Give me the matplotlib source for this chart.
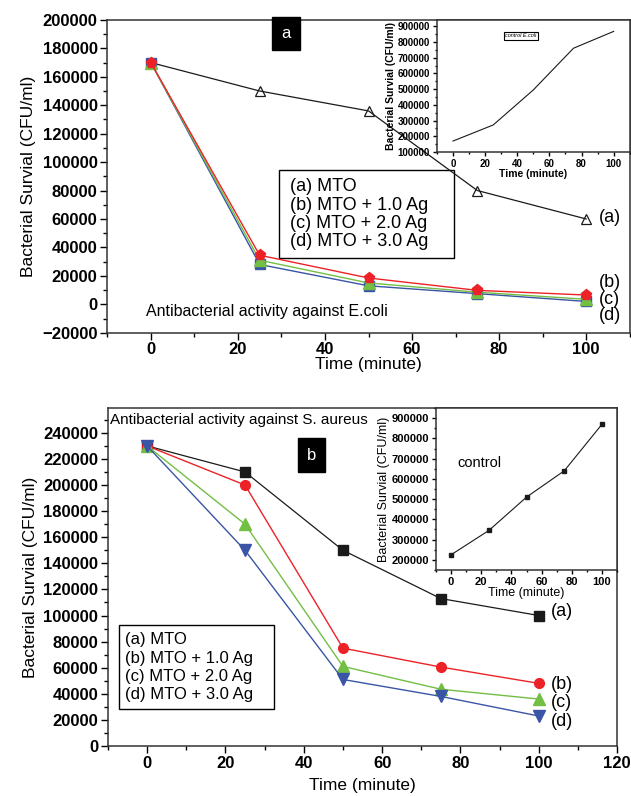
import matplotlib
matplotlib.use('Agg')
import matplotlib.pyplot as plt
from matplotlib.ticker import MultipleLocator
from matplotlib.patches import Rectangle

plt.rcParams['font.family'] = ['Liberation Sans', 'DejaVu Sans']

# data
time = [0, 25, 50, 75, 100]
labels = ['(a) MTO', '(b) MTO + 1.0 Ag', '(c) MTO + 2.0 Ag', '(d) MTO + 3.0 Ag']

ecoli_a = [170000, 150000, 136000, 80000, 60000]
ecoli_b = [170000, 34500, 18500, 9800, 6500]
ecoli_c = [170000, 31000, 15000, 8500, 3500]
ecoli_d = [170000, 28000, 13000, 7500, 2000]
ecoli_ctrl_t = [0, 25, 50, 75, 100]
ecoli_ctrl = [170000, 272000, 495000, 760000, 867000]

aureus_a = [230000, 210000, 150000, 113000, 100000]
aureus_b = [230000, 200000, 75000, 60500, 48000]
aureus_c = [230000, 170000, 61000, 43500, 36000]
aureus_d = [230000, 150000, 51000, 38000, 23000]
aureus_ctrl = [225000, 345000, 510000, 640000, 870000]

RED = '#ec2227'
GREEN = '#72bf44'
BLUE = '#3a55a6'
BLK = '#1a1a1a'

fig = plt.figure(figsize=(6.31, 7.96), dpi=100)


def style(ax, fs, xmaj, xmin, ymaj, ymin, ln=5):
    ax.xaxis.set_major_locator(MultipleLocator(xmaj))
    ax.xaxis.set_minor_locator(MultipleLocator(xmin))
    ax.yaxis.set_major_locator(MultipleLocator(ymaj))
    ax.yaxis.set_minor_locator(MultipleLocator(ymin))
    ax.tick_params(which='major', direction='out', length=ln, width=1, labelsize=fs, pad=2)
    ax.tick_params(which='minor', direction='out', length=ln * 0.6, width=1)
    for lab in ax.get_xticklabels() + ax.get_yticklabels():
        lab.set_fontweight('bold')
    for s in ax.spines.values():
        s.set_linewidth(1.1)
        s.set_color('#333333')


# ---------------- panel a ----------------
ax1 = fig.add_axes([0.170, 0.582, 0.828, 0.393])
ax1.plot(time, ecoli_a, color=BLK, lw=0.9, marker='^', ms=7, mfc='none', mec=BLK, mew=0.9)
ax1.plot(time, ecoli_d, color=BLUE, lw=1, marker='s', ms=7, mfc=BLUE, mec=BLUE)
ax1.plot(time, ecoli_c, color=GREEN, lw=1, marker='^', ms=8, mfc=GREEN, mec=GREEN)
ax1.plot(time, ecoli_b, color=RED, lw=1, marker='p', ms=8, mfc=RED, mec=RED)
ax1.set_xlim(-10, 110)
ax1.set_ylim(-20000, 200000)
style(ax1, 12, 20, 10, 20000, 10000)
ax1.set_xlabel('Time (minute)', fontsize=12.5, labelpad=0)
ax1.set_ylabel('Bacterial Survial (CFU/ml)', fontsize=12.5, labelpad=4)

ax1.text(103, 61000, '(a)', fontsize=13, va='center')
ax1.text(103, 15000, '(b)', fontsize=13, va='center')
ax1.text(103, 3500, '(c)', fontsize=13, va='center')
ax1.text(103, -8000, '(d)', fontsize=13, va='center')
ax1.text(-1, -5000, 'Antibacterial activity against E.coli', fontsize=11.5, va='center')
ax1.text(0.342, 0.957, 'a', transform=ax1.transAxes, color='white', fontsize=12,
         ha='center', va='center', bbox=dict(boxstyle='square,pad=0.55', fc='black', ec='black'))

ax1.add_patch(Rectangle((0.329, 0.24), 0.335, 0.281, transform=ax1.transAxes,
                        fill=False, ec='black', lw=1))
for i, t in enumerate(labels):
    ax1.text(0.35, 0.466 - i * 0.058, t, transform=ax1.transAxes, fontsize=13, va='center')

# inset a
ins1 = fig.add_axes([0.6925, 0.809, 0.3055, 0.166])
ins1.plot(ecoli_ctrl_t, ecoli_ctrl, color=BLK, lw=0.8)
ins1.set_xlim(-10, 110)
ins1.set_ylim(100000, 940000)
style(ins1, 7, 20, 10, 100000, 50000, ln=3)
ins1.set_xlabel('Time (minute)', fontsize=7.5, labelpad=0, fontweight='bold')
ins1.set_ylabel('Bacterial Survial (CFU/ml)', fontsize=7.5, labelpad=1, fontweight='bold')
ins1.text(0.435, 0.88, 'control E.coli', transform=ins1.transAxes, fontsize=4, style='italic',
          ha='center', va='center', bbox=dict(boxstyle='square,pad=0.3', fc='white', ec='black', lw=0.8))

# ---------------- panel b ----------------
ax2 = fig.add_axes([0.171, 0.0628, 0.807, 0.4246])
ax2.plot(time, aureus_a, color=BLK, lw=0.9, marker='s', ms=6.5, mfc=BLK, mec=BLK)
ax2.plot(time, aureus_b, color=RED, lw=1, marker='o', ms=7, mfc=RED, mec=RED)
ax2.plot(time, aureus_c, color=GREEN, lw=1, marker='^', ms=9, mfc=GREEN, mec=GREEN)
ax2.plot(time, aureus_d, color=BLUE, lw=1, marker='v', ms=9, mfc=BLUE, mec=BLUE)
ax2.set_xlim(-10, 120)
ax2.set_ylim(0, 259000)
style(ax2, 12, 20, 10, 20000, 10000)
ax2.set_xlabel('Time (minute)', fontsize=12.5, labelpad=5)
ax2.set_ylabel('Bacterial Survial (CFU/ml)', fontsize=12.5, labelpad=4)

ax2.text(103, 103000, '(a)', fontsize=13, va='center')
ax2.text(103, 47000, '(b)', fontsize=13, va='center')
ax2.text(103, 33000, '(c)', fontsize=13, va='center')
ax2.text(103, 18500, '(d)', fontsize=13, va='center')
ax2.text(0.005, 0.965, 'Antibacterial activity against S. aureus', transform=ax2.transAxes,
         fontsize=11, va='center')
ax2.text(0.40, 0.861, 'b', transform=ax2.transAxes, color='white', fontsize=12,
         ha='center', va='center', bbox=dict(boxstyle='square,pad=0.55', fc='black', ec='black'))

ax2.add_patch(Rectangle((0.0216, 0.109), 0.305, 0.249, transform=ax2.transAxes,
                        fill=False, ec='black', lw=1))
for i, t in enumerate(labels):
    ax2.text(0.034, 0.314 - i * 0.054, t, transform=ax2.transAxes, fontsize=12, va='center')

# inset b
ins2 = fig.add_axes([0.691, 0.284, 0.287, 0.2034])
ins2.plot(time, aureus_ctrl, color=BLK, lw=0.8, marker='s', ms=3, mfc=BLK)
ins2.set_xlim(-10, 110)
ins2.set_ylim(150000, 950000)
style(ins2, 8, 20, 10, 100000, 50000, ln=3)
ins2.set_xlabel('Time (minute)', fontsize=9, labelpad=0)
ins2.set_ylabel('Bacterial Survial (CFU/ml)', fontsize=9, labelpad=1)
ins2.text(0.12, 0.66, 'control', transform=ins2.transAxes, fontsize=10.5, va='center')

fig.savefig('out.png', dpi=100)
